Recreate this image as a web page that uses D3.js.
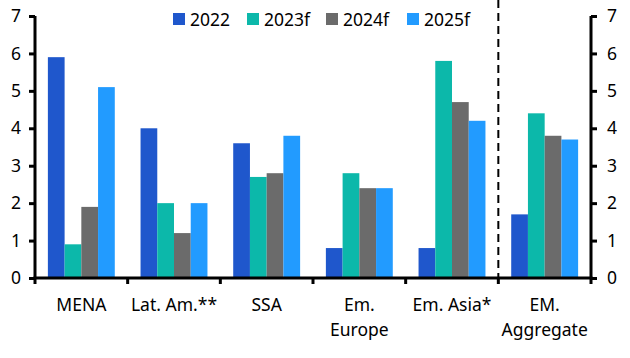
<!DOCTYPE html>
<html>
<head>
<script src="https://d3js.org/d3.v7.min.js"></script>
<style>
body { margin: 0; background: #fff; }
text { font-family: "Noto Sans", sans-serif; }
</style>
</head>
<body>
<svg width="630" height="358"></svg>
<script>
var categories = [["MENA"], ["Lat. Am.**"], ["SSA"], ["Em.", "Europe"], ["Em. Asia*"], ["EM.", "Aggregate"]];
var seriesNames = ["2022", "2023f", "2024f", "2025f"];
var v2022 = [5.9, 4.0, 3.6, 0.8, 0.8, 1.7];
var v2023 = [0.9, 2.0, 2.7, 2.8, 5.8, 4.4];
var v2024 = [1.9, 1.2, 2.8, 2.4, 4.7, 3.8];
var v2025 = [5.1, 2.0, 3.8, 2.4, 4.2, 3.7];
var yTicks = [0, 1, 2, 3, 4, 5, 6, 7];

var colors = ["#1f57cc", "#0cb8aa", "#6b6b6b", "#229bff"];
var series = [v2022, v2023, v2024, v2025];
var fontSize = 17.5;

var svg = d3.select("svg"),
	plotL = 35, plotR = 591, plotT = 16, plotB = 278;

var x = d3.scaleBand()
	.domain(d3.range(categories.length))
	.range([plotL, plotR]);

var x1 = d3.scaleBand()
	.domain(d3.range(seriesNames.length))
	.range([0, x.bandwidth()])
	.paddingOuter(0.77)
	.paddingInner(0);

var y = d3.scaleLinear().domain([0, 7]).range([plotB, plotT]);

// bars
var groups = svg.append("g").selectAll("g")
	.data(categories)
	.enter().append("g")
	.attr("transform", function(d, i) { return "translate(" + x(i) + ",0)"; });

groups.selectAll("rect")
	.data(function(d, i) { return series.map(function(s, k) { return { k: k, v: s[i] }; }); })
	.enter().append("rect")
	.attr("x", function(d) { return x1(d.k); })
	.attr("width", x1.bandwidth())
	.attr("y", function(d) { return y(d.v); })
	.attr("height", function(d) { return y(0) - y(d.v); })
	.attr("fill", function(d) { return colors[d.k]; });

// dashed separator
svg.append("line")
	.attr("x1", x(5)).attr("x2", x(5))
	.attr("y1", 0).attr("y2", plotB)
	.attr("stroke", "#000")
	.attr("stroke-width", 2)
	.attr("stroke-dasharray", "8,5");

// axes
var yl = svg.append("g")
	.attr("transform", "translate(" + plotL + ",0)")
	.call(d3.axisLeft(y).tickValues(yTicks).tickFormat(d3.format("d")).tickSize(6).tickPadding(8));
var yr = svg.append("g")
	.attr("transform", "translate(" + plotR + ",0)")
	.call(d3.axisRight(y).tickValues(yTicks).tickFormat(d3.format("d")).tickSize(6).tickPadding(10));
[yl, yr].forEach(function(g) {
	g.select(".domain").attr("d", "M0," + plotT + "V" + plotB)
		.attr("stroke-width", 3);
	g.selectAll(".tick line").attr("stroke-width", 3);
	g.selectAll(".tick text").attr("font-size", fontSize).attr("fill", "#000")
		.attr("font-family", "Noto Sans");
});

var xTicks = d3.range(categories.length + 1).map(function(i) { return plotL + i * x.bandwidth(); });
svg.append("line")
	.attr("x1", plotL - 1.5).attr("x2", plotR + 1.5)
	.attr("y1", plotB).attr("y2", plotB)
	.attr("stroke", "#000").attr("stroke-width", 3);
svg.append("g").selectAll("line")
	.data(xTicks)
	.enter().append("line")
	.attr("x1", function(d) { return d; }).attr("x2", function(d) { return d; })
	.attr("y1", plotB).attr("y2", plotB + 6)
	.attr("stroke", "#000").attr("stroke-width", 3);

svg.append("g").selectAll("text")
	.data(categories)
	.enter().append("text")
	.attr("text-anchor", "middle")
	.attr("font-size", fontSize)
	.attr("fill", "#000")
	.attr("x", function(d, i) { return x(i) + x.bandwidth() / 2; })
	.attr("y", 311)
	.selectAll("tspan")
	.data(function(d) { return d; })
	.enter().append("tspan")
	.attr("x", function() { return d3.select(this.parentNode).attr("x"); })
	.attr("dy", function(d, i) { return i === 0 ? 0 : 25; })
	.text(function(d) { return d; });

// legend
var legendX = [173, 247, 326, 407];
var legend = svg.append("g").selectAll("g")
	.data(seriesNames)
	.enter().append("g")
	.attr("transform", function(d, i) { return "translate(" + legendX[i] + ",13)"; });
legend.append("rect")
	.attr("width", 12).attr("height", 12)
	.attr("fill", function(d, i) { return colors[i]; });
legend.append("text")
	.attr("x", 17).attr("y", 12.5)
	.attr("font-size", fontSize)
	.attr("fill", "#000")
	.text(function(d) { return d; });
</script>
</body>
</html>
